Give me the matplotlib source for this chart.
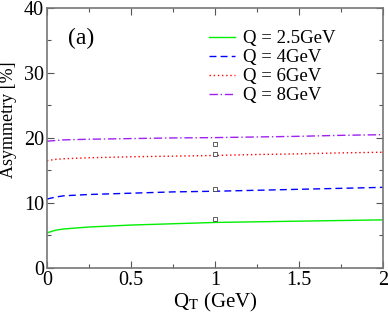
import matplotlib
matplotlib.use("Agg")
import matplotlib.pyplot as plt
from matplotlib.ticker import MultipleLocator

plt.rcParams['font.family'] = ['Liberation Serif', 'DejaVu Serif']
plt.rcParams['mathtext.fontset'] = 'stix'

# Data
qt = [0.0, 0.05, 0.1, 0.25, 0.5, 0.75, 1.0, 1.25, 1.5, 1.75, 2.0]
asym_q25 = [5.4, 5.8, 6.0, 6.3, 6.6, 6.8, 7.0, 7.1, 7.2, 7.3, 7.4]
asym_q4 = [10.6, 10.9, 11.1, 11.3, 11.5, 11.7, 11.8, 11.95, 12.1, 12.25, 12.4]
asym_q6 = [16.5, 16.7, 16.8, 16.95, 17.1, 17.2, 17.3, 17.45, 17.55, 17.7, 17.8]
asym_q8 = [19.5, 19.6, 19.7, 19.8, 19.9, 20.0, 20.05, 20.15, 20.25, 20.4, 20.5]
labels = ['Q = 2.5GeV', 'Q = 4GeV', 'Q = 6GeV', 'Q = 8GeV']

pts_x = [1.0, 1.0, 1.0, 1.0]
pts_y = [7.5, 12.1, 17.5, 19.1]

fig = plt.figure(figsize=(3.88, 3.16), dpi=100)
ax = fig.add_axes([0.121, 0.152, 0.866, 0.823])

ax.plot(qt, asym_q25, color='#00ee00', lw=1.0, ls='-', label=labels[0])
ax.plot(qt, asym_q4, color='#0000ff', lw=1.0, ls=(0, (5, 3)), label=labels[1])
ax.plot(qt, asym_q6, color='#ff0000', lw=1.0, ls=(0, (1, 2)), label=labels[2])
ax.plot(qt, asym_q8, color='#a020f0', lw=1.0, ls=(0, (6, 2, 1, 2)), label=labels[3])
ax.plot(pts_x, pts_y, ls='none', marker='s', ms=3, mfc='white', mec='#444444', mew=0.6)

ax.set_xlim(0, 2)
ax.set_ylim(0, 40)
ax.xaxis.set_major_locator(MultipleLocator(0.5))
ax.xaxis.set_minor_locator(MultipleLocator(0.25))
ax.yaxis.set_major_locator(MultipleLocator(10))
ax.yaxis.set_minor_locator(MultipleLocator(5))
ax.set_xticks([0, 0.5, 1, 1.5, 2])
ax.set_xticklabels(['0', '0.5', '1', '1.5', '2'])
ax.tick_params(which='both', direction='in', top=True, right=True,
               color='#555555', labelsize=14.5, pad=2)
ax.tick_params(which='major', length=5, width=0.8)
ax.tick_params(which='minor', length=3, width=0.8)
for s in ax.spines.values():
    s.set_color('#777777')
    s.set_linewidth(1.2)

ax.set_xlabel(r'Q$_\mathrm{T}$ (GeV)', fontsize=15)
ax.xaxis.set_label_coords(0.5, -0.09)
ax.set_ylabel('Asymmetry [%]', fontsize=13)
ax.yaxis.set_label_coords(-0.088, 0.57)
ax.text(0.125, 35.3, '(a)', fontsize=17, va='center', ha='left')

ax.legend(loc='upper left', bbox_to_anchor=(0.455, 0.95), frameon=False,
          fontsize=13.5, handlelength=1.35, handletextpad=0.45,
          labelspacing=0.1, borderpad=0)

fig.savefig('out.png', dpi=100)
